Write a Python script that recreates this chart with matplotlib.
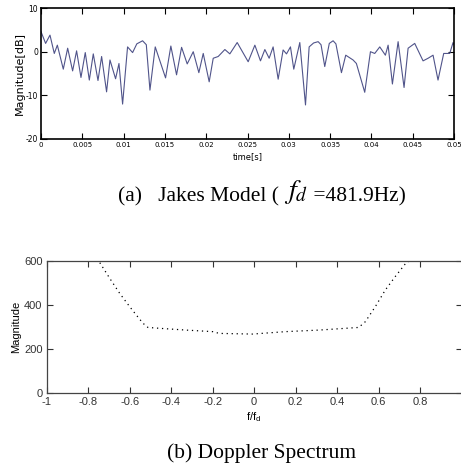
import matplotlib
matplotlib.use('Agg')
import matplotlib.pyplot as plt
import numpy as np

# (a) Jakes fading envelope, peaks and dips
t_s = [0.0, 0.00056, 0.00109, 0.00161, 0.00198, 0.00270, 0.00323, 0.00383, 0.00431,
       0.00484, 0.00536, 0.00585, 0.00633, 0.00690, 0.00734, 0.00794, 0.00835, 0.00903,
       0.00944, 0.00988, 0.01048, 0.01109, 0.01160, 0.01230, 0.01275, 0.01319, 0.01383,
       0.01508, 0.01572, 0.01641, 0.01702, 0.01770, 0.01843, 0.01911, 0.01964, 0.02036,
       0.02085, 0.02145, 0.02226, 0.02286, 0.02375, 0.02508, 0.02589, 0.02657, 0.02710,
       0.02762, 0.02810, 0.02871, 0.02931, 0.02972, 0.03020, 0.03060, 0.03133, 0.03202,
       0.03246, 0.03300, 0.03355, 0.03390, 0.03435, 0.03490, 0.03536, 0.03570, 0.03637,
       0.03689, 0.03778, 0.03818, 0.03919, 0.03988, 0.04040, 0.04101, 0.04169, 0.04202,
       0.04254, 0.04323, 0.04395, 0.04444, 0.04524, 0.04625, 0.04686, 0.04746, 0.04806,
       0.04875, 0.04948, 0.04988, 0.05000]
mag_db = [4.6, 1.9, 3.8, -0.4, 1.5, -4.0, 0.8, -4.4, 0.2,
          -5.9, -0.2, -6.5, -0.5, -6.6, -1.1, -9.2, -1.9, -6.2,
          -2.7, -12.0, 1.1, -0.2, 1.8, 2.5, 1.6, -8.8, 1.1,
          -6.0, 1.3, -5.3, 1.0, -2.8, 0.0, -4.8, -0.4, -6.9,
          -1.5, -1.1, 0.5, -0.5, 2.1, -2.3, 1.5, -2.1, 0.5,
          -1.5, 1.1, -6.3, 0.4, -0.5, 1.1, -4.0, 2.1, -12.2,
          1.1, 2.0, 2.3, 1.6, -3.4, 1.9, 2.5, 1.8, -4.8,
          -0.8, -1.9, -2.7, -9.3, 0.0, -0.4, 1.1, -0.8, 1.5,
          -7.4, 2.3, -8.2, 0.8, 1.9, -2.1, -1.5, -0.8, -6.5,
          -0.4, -0.4, 2.1, 1.6]
ticks_a = [0, 0.005, 0.01, 0.015, 0.02, 0.025, 0.03, 0.035, 0.04, 0.045, 0.05]
ticklabels_a = ['0', '0.005', '0.01', '0.015', '0.02', '0.025', '0.03', '0.035', '0.04', '0.045', '0.05']

# (b) Doppler spectrum
f_norm = [-0.744, -0.696, -0.648, -0.600, -0.568, -0.536, -0.512, -0.456, -0.328, -0.200,
          -0.168, -0.008, 0.152, 0.312, 0.504, 0.536, 0.584, 0.632, 0.680, 0.728, 0.744]
spec = [591, 520, 452, 392, 354, 317, 298, 294, 286, 279,
        271, 268, 279, 286, 298, 324, 392, 467, 528, 585, 595]

narrow = ['Liberation Sans Narrow', 'DejaVu Sans']
plt.rcParams['mathtext.fontset'] = 'stix'

fig = plt.figure(figsize=(4.61, 4.71), dpi=100)

ax = fig.add_axes([0.0889, 0.7049, 0.896, 0.278])
ax.plot(t_s, mag_db, color='#50548a', lw=0.8)
ax.set_xlim(0, 0.05)
ax.set_ylim(-20, 10)
ax.set_xticks(ticks_a)
ax.set_xticklabels(ticklabels_a, family=narrow, fontsize=5)
ax.set_yticks([-20, -10, 0, 10])
ax.set_yticklabels(['-20', '-10', '0', '10'], family=narrow, fontsize=5.5)
ax.tick_params(direction='in', top=True, right=True, length=4, width=0.8, pad=2)
for s in ax.spines.values():
    s.set_linewidth(1.2)
ax.set_xlabel('time[s]', family=narrow, fontsize=6, labelpad=3)
ax.set_ylabel('Magnitude[dB]', family=narrow, fontsize=8, labelpad=1)

# caption (a), built in pieces so f_d can be bigger
t1 = fig.text(0.256, 0.562, '(a)   Jakes Model ( ', ha='left', va='bottom',
              family='Liberation Serif', fontsize=15.5)
t2 = ax.annotate('$f_d$', xy=(1, 0), xycoords=t1, va='bottom', fontsize=20)
ax.annotate(' =481.9Hz)', xy=(1, 0), xycoords=t2, va='bottom',
            family='Liberation Serif', fontsize=15.5)

ax2 = fig.add_axes([0.1013, 0.165, 0.9, 0.2815])
ax2.plot(f_norm, spec, color='black', lw=0.9, ls=(0, (1, 3)))
ax2.set_xlim(-1, 1)
ax2.set_ylim(0, 600)
ax2.set_xticks(np.arange(-1, 0.81, 0.2))
ax2.set_xticklabels(['-1', '-0.8', '-0.6', '-0.4', '-0.2', '0', '0.2', '0.4', '0.6', '0.8'])
ax2.set_yticks([0, 200, 400, 600])
ax2.tick_params(direction='in', top=True, right=True, length=4, width=0.8, pad=3,
                labelsize=8, colors='#333333')
for lab in ax2.get_xticklabels() + ax2.get_yticklabels():
    lab.set_family('Liberation Sans')
for s in ax2.spines.values():
    s.set_linewidth(0.9)
    s.set_color('#444444')
ax2.set_xlabel('f/f$_\\mathregular{d}$', family='Liberation Sans', fontsize=8, labelpad=2)
ax2.set_ylabel('Magnitude', family='Liberation Sans', fontsize=8, labelpad=2)

fig.text(0.568, 0.038, '(b) Doppler Spectrum', ha='center', va='center',
         family='Liberation Serif', fontsize=15.5)

fig.savefig('out.png', dpi=100)
